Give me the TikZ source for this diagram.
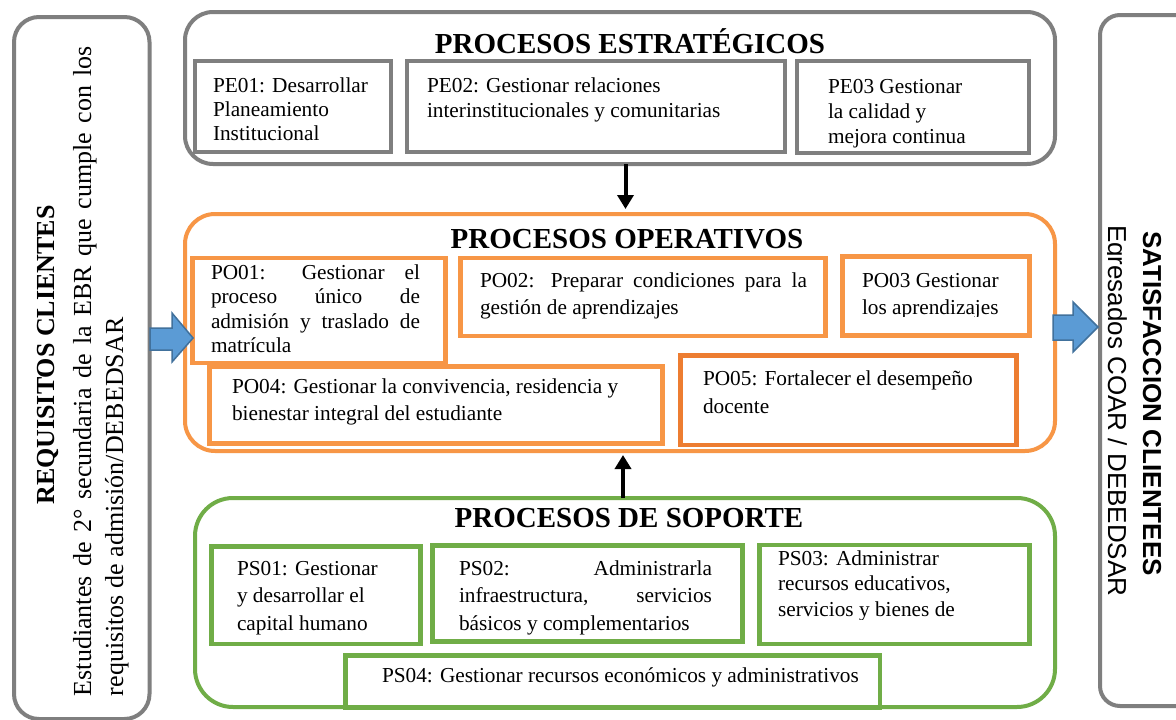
\documentclass[tikz,border=0pt]{standalone}
\usepackage{fontspec}
\setmainfont{Liberation Serif}
\newfontfamily\arialfont{Liberation Sans}
\usetikzlibrary{arrows.meta}

\definecolor{frameGray}{HTML}{7F7F7F}
\definecolor{opOrange}{HTML}{F79646}
\definecolor{opDark}{HTML}{ED7D31}
\definecolor{supGreen}{HTML}{70AD47}
\definecolor{flowBlue}{HTML}{5B9BD5}
\definecolor{flowEdge}{HTML}{41719C}

% box node from its two corners: style, name, x1, y1, x2, y2
\newcommand{\procbox}[6]{%
  \node[#1, minimum width={#5-#3}, minimum height={#6-#4}] (#2)
    at ({(#3+#5)/2},{(#4+#6)/2}) {};}
% multi-line box text, first baseline on the anchor
\newcommand{\boxtext}[2]{\parbox[t]{700pt}{\fontsize{21.3}{#1}\selectfont #2}}

\begin{document}
\begin{tikzpicture}[x=1pt,y=-1pt,
  grpframe/.style={draw, line width=4pt, inner sep=0pt, outer sep=0pt, rounded corners=#1},
  inbox/.style={draw, line width=4.5pt, inner sep=0pt, outer sep=0pt},
  txt/.style={inner sep=0pt, outer sep=0pt, anchor=base west},
  grptitle/.style={inner sep=0pt, outer sep=0pt, anchor=base,
    font=\fontsize{29}{34}\selectfont\bfseries},
  flow/.style={line width=4pt, -{Triangle[length=14pt,width=16pt]}},
  blockarrow/.style={fill=flowBlue, draw=flowEdge, line width=1.5pt, line join=miter}]

\clip (0,0) rectangle (1176,720);
\fill[white] (0,0) rectangle (1176,720);

% ---- side frames -------------------------------------------------
\procbox{grpframe=25pt, frameGray}{req}{14}{17}{149.5}{719}
\procbox{grpframe=20pt, frameGray}{sat}{1100}{15}{1210}{706}

\node[inner sep=0pt, anchor=base, rotate=90,
  font=\fontsize{26}{32}\selectfont\bfseries] (reqtitle) at (54,355) {REQUISITOS CLIENTES};
\node[txt, rotate=90] (reqbody) at (91,696)
  {\parbox[t]{700pt}{\fontsize{26}{32}\selectfont
   \makebox[650pt][s]{Estudiantes de 2° secundaria de la EBR que cumple con los}\\
   requisitos de admisión/DEBEDSAR}};

\node[txt, rotate=-90, font=\arialfont\fontsize{26}{32}\selectfont\bfseries]
  (sattitle) at (1143,231) {SATISFACCION CLIENTEES};
\begin{scope}
  \clip (1107,0) rectangle (1176,720);
  \node[txt, rotate=-90, font=\arialfont\fontsize{26}{32}\selectfont]
    (satbody) at (1108,225) {Egresados COAR / DEBEDSAR};
\end{scope}

% ---- process groups ----------------------------------------------
\procbox{grpframe=28pt, frameGray}{strat}{185}{12}{1055}{164}
\procbox{grpframe=30pt, opOrange}{oper}{185}{214}{1055}{451}
\procbox{grpframe=38pt, supGreen}{sup}{195}{498}{1055}{707}

\node[grptitle] (strattitle) at (630,53) {PROCESOS ESTRATÉGICOS};
\node[grptitle] (opertitle) at (627,248) {PROCESOS OPERATIVOS};
\node[grptitle] (suptitle) at (629,527) {PROCESOS DE SOPORTE};

% strategic processes
\procbox{inbox, frameGray}{pe01}{195}{61}{391}{152}
\procbox{inbox, frameGray}{pe02}{407}{61}{785}{152}
\procbox{inbox, frameGray}{pe03}{797}{61}{1029}{153}
\node[txt] (pe01t) at (213,92) {\boxtext{24}{PE01: Desarrollar\\Planeamiento\\Institucional}};
\node[txt] (pe02t) at (427,92) {\boxtext{25}{PE02: Gestionar relaciones\\interinstitucionales y comunitarias}};
\node[txt] (pe03t) at (828,93) {\boxtext{25}{PE03 Gestionar\\la calidad y\\mejora continua}};

% operative processes
\procbox{inbox, opOrange}{po01}{192.5}{258}{445.5}{363}
\procbox{inbox, opOrange}{po02}{460.5}{258}{825.5}{336}
\procbox{inbox, opOrange}{po03}{842.5}{256.5}{1029.5}{335.5}
\procbox{inbox, opOrange}{po04}{209.5}{366.5}{662.5}{443.5}
\procbox{inbox, opDark}{po05}{680.5}{355.5}{1016.5}{445}
\node[txt] (po01t) at (211,279) {\boxtext{24.5}{%
  \makebox[209pt][s]{PO01: Gestionar el}\\
  \makebox[209pt][s]{proceso único de}\\
  \makebox[209pt][s]{admisión y traslado de}\\
  matrícula}};
\node[txt] (po02t) at (480,287) {\boxtext{27}{%
  \makebox[327pt][s]{PO02: Preparar condiciones para la}\\
  gestión de aprendizajes}};
\begin{scope}
  \clip (842,256) rectangle (1030,316.5);
  \node[txt] (po03t) at (862,287) {\boxtext{27}{PO03 Gestionar\\los aprendizajes}};
\end{scope}
\node[txt] (po04t) at (232,393) {\boxtext{27}{PO04: Gestionar la convivencia, residencia y\\bienestar integral del estudiante}};
\node[txt] (po05t) at (703,385) {\boxtext{28}{PO05: Fortalecer el desempeño\\docente}};

% support processes
\procbox{inbox, supGreen}{ps01}{211.5}{546.5}{420.5}{644}
\procbox{inbox, supGreen}{ps02}{432.5}{545.5}{742.5}{641.5}
\procbox{inbox, supGreen}{ps03}{759.5}{545}{1029.5}{644}
\procbox{inbox, supGreen}{ps04}{345.5}{655.5}{880}{708}
\node[txt] (ps01t) at (237,575) {\boxtext{27.5}{PS01: Gestionar\\y desarrollar el\\capital humano}};
\node[txt] (ps02t) at (459,575) {\boxtext{27.5}{%
  \makebox[253pt][s]{PS02: Administrarla}\\
  \makebox[253pt][s]{infraestructura, servicios}\\
  básicos y complementarios}};
\begin{scope}
  \clip (759,545) rectangle (1030,619);
  \node[txt] (ps03t) at (778,565) {\boxtext{25.8}{PS03: Administrar\\recursos educativos,\\servicios y bienes de}};
\end{scope}
\node[txt] (ps04t) at (382,682) {\fontsize{21.3}{25}\selectfont PS04: Gestionar recursos económicos y administrativos};

% ---- connectors --------------------------------------------------
\draw[flow, shorten >=5pt] ([xshift=5.5pt]strat.south) -- ([xshift=5.5pt]oper.north);
\draw[flow, shorten >=4pt] ([xshift=-2pt]sup.north) -- ([xshift=3pt]oper.south);

% block arrows: client requirements in, client satisfaction out
\draw[blockarrow] (150,328) -- (172,328) -- (172,313) -- (193,338)
  -- (172,362) -- (172,350) -- (150,350) -- cycle;
\draw[blockarrow] (1053,315) -- (1073,315) -- (1073,302) -- (1098,327)
  -- (1073,352) -- (1073,340) -- (1053,340) -- cycle;

\end{tikzpicture}
\end{document}
